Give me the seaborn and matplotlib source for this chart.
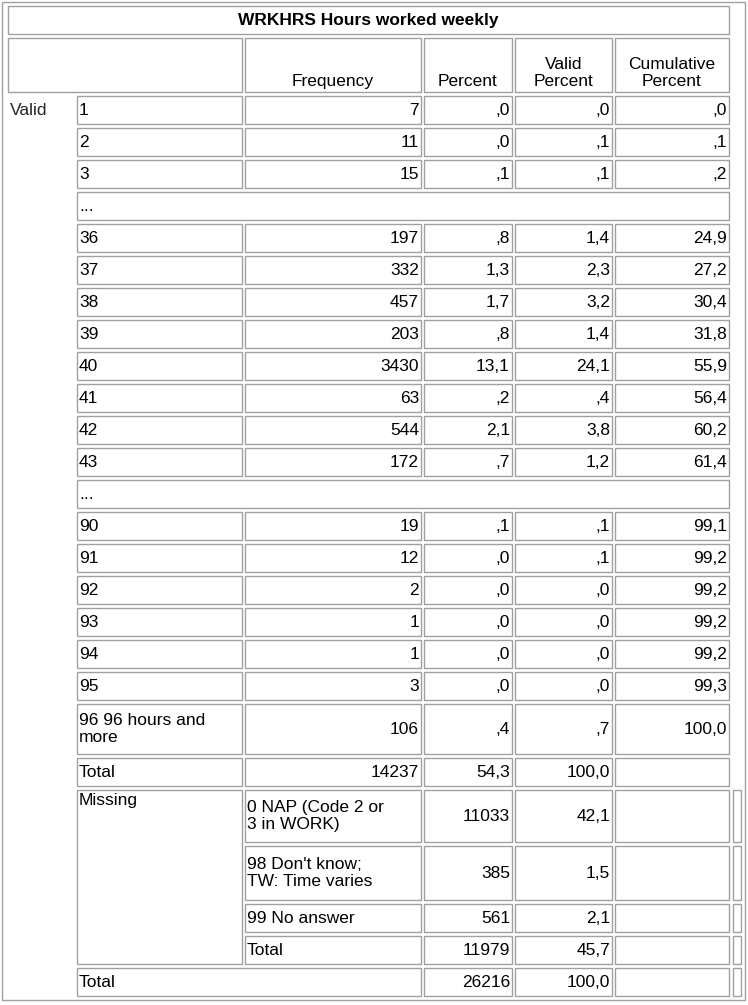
import matplotlib
matplotlib.use("Agg")
import matplotlib.pyplot as plt
import seaborn as sns
from matplotlib.patches import Rectangle

sns.set_theme(style="white")
plt.rcParams['font.family'] = ['Liberation Sans', 'DejaVu Sans']

title = "WRKHRS Hours worked weekly"
headers = ["Frequency", "Percent", "Valid\nPercent", "Cumulative\nPercent"]

valid_labels = ["1", "2", "3", "...", "36", "37", "38", "39", "40", "41", "42", "43",
                "...", "90", "91", "92", "93", "94", "95", "96 96 hours and\nmore", "Total"]
valid_freq = ["7", "11", "15", "", "197", "332", "457", "203", "3430", "63", "544", "172",
              "", "19", "12", "2", "1", "1", "3", "106", "14237"]
valid_pct = [",0", ",0", ",1", "", ",8", "1,3", "1,7", ",8", "13,1", ",2", "2,1", ",7",
             "", ",1", ",0", ",0", ",0", ",0", ",0", ",4", "54,3"]
valid_vpct = [",0", ",1", ",1", "", "1,4", "2,3", "3,2", "1,4", "24,1", ",4", "3,8", "1,2",
              "", ",1", ",1", ",0", ",0", ",0", ",0", ",7", "100,0"]
valid_cum = [",0", ",1", ",2", "", "24,9", "27,2", "30,4", "31,8", "55,9", "56,4", "60,2", "61,4",
             "", "99,1", "99,2", "99,2", "99,2", "99,2", "99,3", "100,0", ""]

missing_labels = ["0 NAP (Code 2 or\n3 in WORK)", "98 Don't know;\nTW: Time varies", "99 No answer", "Total"]
missing_freq = ["11033", "385", "561", "11979"]
missing_pct = ["42,1", "1,5", "2,1", "45,7"]

total_freq = "26216"
total_pct = "100,0"

fig = plt.figure(figsize=(7.48, 10.05), dpi=100)
ax = fig.add_axes([0, 0, 1, 1])
ax.set_xlim(0, 748)
ax.set_ylim(1005, 0)
ax.axis("off")

EC = "#a0a0a0"
FS = 12.5


def cell(x0, y0, x1, y1, text="", ha="right", va="center", bold=False, border=True):
    if border:
        ax.add_patch(Rectangle((x0, y0), x1 - x0, y1 - y0, fill=False, ec=EC, lw=1))
    if text:
        if ha == "right":
            tx = x1 - 2
        elif ha == "left":
            tx = x0 + 2
        else:
            tx = (x0 + x1) / 2
        ty = (y0 + y1) / 2 if va == "center" else (y1 - 3 if va == "bottom" else y0 + 3)
        ax.text(tx, ty, text, ha=ha, va=va, fontsize=FS,
                fontweight="bold" if bold else "normal", color="black", linespacing=1.15)


# outer frame
ax.add_patch(Rectangle((2, 2), 743, 998, fill=False, ec=EC, lw=1))

cols = [8, 74, 77, 242, 245, 421, 424, 512, 515, 612, 615, 729]
cell(8, 6, 729, 34, title, ha="center", bold=True)
cell(8, 38, 242, 92)
for i, h in enumerate(headers):
    x0, x1 = cols[4 + 2 * i], cols[5 + 2 * i]
    cell(x0, 38, x1, 92, h, ha="center", va="bottom")

# valid rows
y = 96
heights = [28] * len(valid_labels)
heights[19] = 50
for i, lab in enumerate(valid_labels):
    h = heights[i]
    if lab == "...":
        cell(77, y, 729, y + h, "...", ha="left")
    else:
        cell(77, y, 242, y + h, lab, ha="left")
        cell(245, y, 421, y + h, valid_freq[i])
        cell(424, y, 512, y + h, valid_pct[i])
        cell(515, y, 612, y + h, valid_vpct[i])
        cell(615, y, 729, y + h, valid_cum[i])
    y += h + 4
ax.text(10, 110, "Valid", ha="left", va="center", fontsize=FS)

# missing rows
y0m = y
mh = [52, 54, 28, 28]
for i, lab in enumerate(missing_labels):
    h = mh[i]
    cell(245, y, 421, y + h, lab, ha="left")
    cell(424, y, 512, y + h, missing_freq[i])
    cell(515, y, 612, y + h, missing_pct[i])
    cell(615, y, 729, y + h)
    cell(733, y, 741, y + h)
    y += h + 4
cell(77, y0m, 242, y - 4, "Missing", ha="left", va="top")

cell(77, y, 421, y + 28, "Total", ha="left")
cell(424, y, 512, y + 28, total_freq)
cell(515, y, 612, y + 28, total_pct)
cell(615, y, 729, y + 28)
cell(733, y, 741, y + 28)

fig.savefig("out.png", dpi=100, facecolor="white")
